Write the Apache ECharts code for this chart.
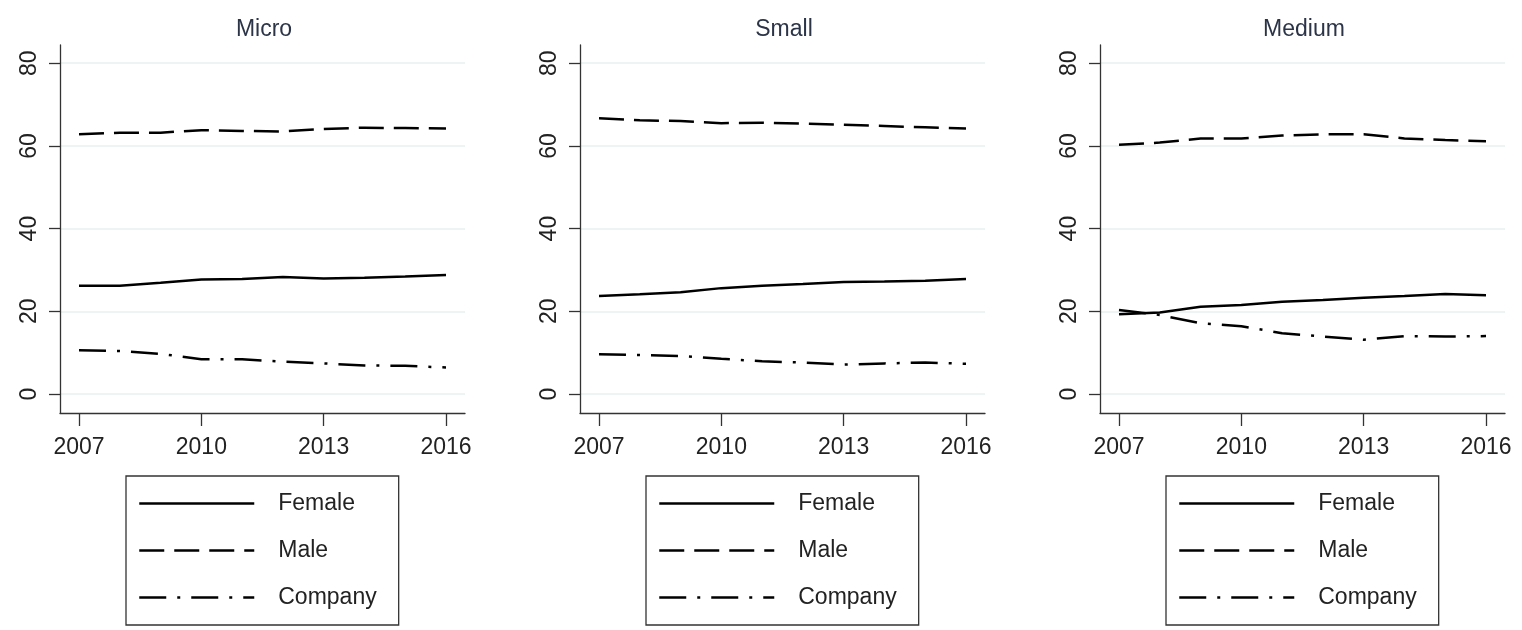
<!DOCTYPE html>
<html>
<head>
<meta charset="utf-8">
<script src="https://cdn.jsdelivr.net/npm/echarts@6/dist/echarts.min.js"></script>
<style>
  html, body { margin: 0; padding: 0; background: #fff; }
  #chart { width: 1522px; height: 630px; }
</style>
</head>
<body>
<div id="chart"></div>
<script>
// data (percent shares)
const years = [2007, 2008, 2009, 2010, 2011, 2012, 2013, 2014, 2015, 2016];
const panels = ['Micro', 'Small', 'Medium'];
const seriesNames = ['Female', 'Male', 'Company'];

const microFemale = [26.2, 26.2, 26.9, 27.7, 27.8, 28.3, 27.9, 28.1, 28.4, 28.8];
const microMale = [62.8, 63.2, 63.2, 63.8, 63.6, 63.5, 64.1, 64.4, 64.3, 64.2];
const microCompany = [10.6, 10.4, 9.7, 8.4, 8.4, 7.8, 7.4, 6.9, 6.8, 6.4];

const smallFemale = [23.7, 24.1, 24.6, 25.6, 26.2, 26.6, 27.1, 27.2, 27.4, 27.8];
const smallMale = [66.7, 66.2, 66.0, 65.5, 65.6, 65.4, 65.1, 64.8, 64.5, 64.2];
const smallCompany = [9.6, 9.4, 9.2, 8.5, 7.9, 7.6, 7.1, 7.4, 7.6, 7.3];

const mediumFemale = [19.3, 19.7, 21.1, 21.5, 22.3, 22.7, 23.3, 23.7, 24.2, 23.9];
const mediumMale = [60.3, 60.8, 61.8, 61.8, 62.5, 62.8, 62.8, 61.8, 61.4, 61.1];
const mediumCompany = [20.3, 19.1, 17.1, 16.4, 14.7, 13.9, 13.1, 14.0, 13.9, 14.0];

const xTicks = [2007, 2010, 2013, 2016];
const yTicks = [0, 20, 40, 60, 80];

const panelData = [
  [microFemale, microMale, microCompany],
  [smallFemale, smallMale, smallCompany],
  [mediumFemale, mediumMale, mediumCompany]
];

const FONT = '"Liberation Sans", Arial, sans-serif';
const lineTypes = ['solid', [25, 10], [27, 11, 3, 11]];
const gridLeft = [60, 580, 1100];

let myChart = echarts.init(document.getElementById('chart'));

let grids = [], xAxes = [], yAxes = [], titles = [], legends = [], series = [];
panels.forEach(function (p, i) {
  grids.push({ left: gridLeft[i], top: 45, width: 405, height: 368 });
  titles.push({
    text: p,
    left: gridLeft[i] + 199,
    top: 13,
    textAlign: 'center',
    textStyle: { fontFamily: FONT, fontSize: 23, fontWeight: 'normal', color: '#2c3448' }
  });
  xAxes.push({
    type: 'value',
    gridIndex: i,
    min: 2006.534,
    max: 2016.466,
    axisLine: { onZero: false, lineStyle: { color: '#333', width: 1.3 } },
    axisTick: { show: true, customValues: xTicks, length: 13, lineStyle: { color: '#333', width: 1.3 } },
    axisLabel: {
      customValues: xTicks,
      formatter: function (v) { return String(v); },
      margin: 23,
      color: '#222',
      fontFamily: FONT,
      fontSize: 23
    },
    splitLine: { show: false }
  });
  yAxes.push({
    type: 'value',
    gridIndex: i,
    min: -4.6,
    max: 84.4,
    axisLine: { show: true, onZero: false, lineStyle: { color: '#333', width: 1.3 } },
    axisTick: { show: true, customValues: yTicks, length: 11, lineStyle: { color: '#333', width: 1.3 } },
    axisLabel: {
      customValues: yTicks,
      rotate: 90,
      margin: 19,
      color: '#222',
      fontFamily: FONT,
      fontSize: 23
    },
    splitLine: { show: true, lineStyle: { color: '#e9eff0', width: 1.5 } }
  });
  legends.push({
    left: gridLeft[i] + 66,
    top: 476,
    orient: 'vertical',
    selectedMode: false,
    borderColor: '#333',
    borderWidth: 1.3,
    padding: [16, 22, 16, 12],
    itemWidth: 115,
    itemHeight: 14,
    itemGap: 24,
    itemStyle: { opacity: 0 },
    textStyle: { fontFamily: FONT, fontSize: 23, color: '#222', padding: [0, 0, 0, 19] },
    data: seriesNames.map(function (n, k) {
      return { name: n, lineStyle: { color: '#000', width: 2.5, type: lineTypes[k] } };
    })
  });
  seriesNames.forEach(function (n, k) {
    series.push({
      name: n,
      type: 'line',
      xAxisIndex: i,
      yAxisIndex: i,
      symbol: 'none',
      silent: true,
      data: years.map(function (y, j) { return [y, panelData[i][k][j]]; }),
      lineStyle: { color: '#000', width: 2.5, type: lineTypes[k] }
    });
  });
});

myChart.setOption({
  animation: false,
  backgroundColor: '#fff',
  title: titles,
  grid: grids,
  xAxis: xAxes,
  yAxis: yAxes,
  legend: legends,
  series: series
});
</script>
</body>
</html>
